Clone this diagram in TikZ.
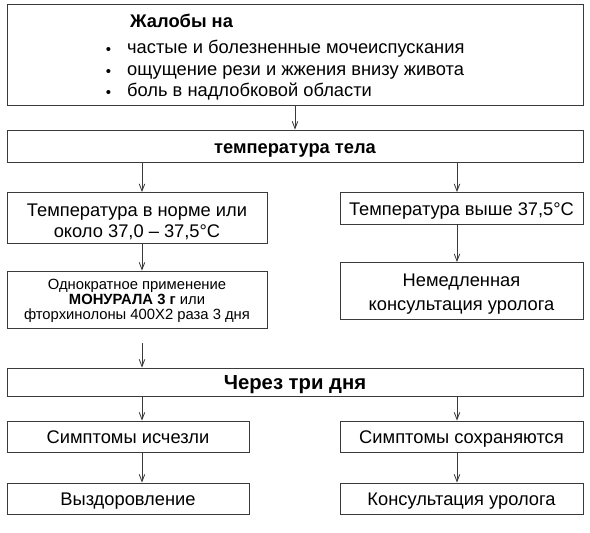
\documentclass[tikz,border=0pt]{standalone}
\usepackage{fontspec}
\setmainfont{Liberation Sans}
\usetikzlibrary{arrows.meta}
\definecolor{edge}{HTML}{3A3A3A}
\tikzset{
  box/.style={draw=edge, line width=0.9pt, fill=white, inner sep=0pt, align=center,
    font=\fontsize{18.3}{21}\selectfont, text height=14.6pt, text depth=0pt},
  arr/.style={draw=edge, line width=0.85pt, -{Straight Barb[length=7pt,width=5.5pt]}},
  txt/.style={inner sep=0pt, anchor=base west, font=\fontsize{18.3}{20}\selectfont},
  bul/.style={inner sep=0pt, anchor=base, font=\fontsize{15}{16}\selectfont}
}
\begin{document}
\begin{tikzpicture}[x=1pt,y=-1pt]
\useasboundingbox (0,0) rectangle (590,533);
\fill[white] (0,0) rectangle (590,533);
% columns
\coordinate (lc) at (142,0);
\coordinate (rc) at (457,0);
% top box
\node[box, minimum width=576pt, minimum height=101pt] (top) at (295,54.5) {};
\draw[edge, line width=1.8pt] (top.south west) -- (top.south east);
\node[txt, font=\fontsize{18.3}{20}\selectfont\bfseries] (head) at (130,27) {Жалобы на};
\node[bul] (b1) at (108.5,54) {•};
\node[txt] (t1) at (127,53.5) {частые и болезненные мочеиспускания};
\node[bul] (b2) at (108.5,76) {•};
\node[txt] (t2) at (127,75.5) {ощущение рези и жжения внизу живота};
\node[bul] (b3) at (108.5,97) {•};
\node[txt] (t3) at (127,96.5) {боль в надлобковой области};
% temperature
\node[box, minimum width=576pt, minimum height=32pt, font=\fontsize{18.3}{20}\selectfont\bfseries] (temp) at (295,146) {температура тела};
% left column
\node[box, minimum width=260pt, minimum height=50.5pt, text height=38.5pt, text depth=0pt] (l1) at (137,217.75) {Температура в норме или\\около 37,0 – 37,5°C};
\node[box, font=\fontsize{14.8}{15}\selectfont, minimum width=260pt, minimum height=57pt, text height=39pt, text depth=0pt] (l2) at (137,299.5) {Однократное применение\\\textbf{МОНУРАЛА 3 г} или\\фторхинолоны 400X2 раза 3 дня};
% right column
\node[box, minimum width=243pt, minimum height=31.5pt] (r1) at (461.5,208.25) {Температура выше 37,5°C};
\node[box, font=\fontsize{18.3}{24.7}\selectfont, minimum width=243pt, minimum height=56.5pt, text height=39.9pt, text depth=0pt] (r2) at (461.5,290.75) {Немедленная\\консультация уролога};
% three days
\node[box, minimum width=576pt, minimum height=28pt, font=\fontsize{20.3}{22}\selectfont\bfseries] (via) at (295,382) {Через три дня};
% bottom
\node[box, minimum width=242pt, minimum height=31pt] (l3) at (128,436.5) {Симптомы исчезли};
\node[box, minimum width=242pt, minimum height=31pt] (l4) at (128,498.5) {Выздоровление};
\node[box, minimum width=243pt, minimum height=31pt] (r3) at (461.5,436.5) {Симптомы сохраняются};
\node[box, minimum width=243pt, minimum height=31pt] (r4) at (461.5,498.5) {Консультация уролога};
% connectors
\coordinate (gap) at (142,343);
\draw[arr] (top.south) -- (temp.north);
\draw[arr] (temp.south -| lc) -- (l1.north -| lc);
\draw[arr] (temp.south -| rc) -- (r1.north -| rc);
\draw[arr] (l1.south -| lc) -- (l2.north -| lc);
\draw[arr] (r1.south -| rc) -- (r2.north -| rc);
\draw[arr] (gap) -- (via.north -| lc);
\draw[arr] (via.south -| lc) -- (l3.north -| lc);
\draw[arr] (via.south -| rc) -- (r3.north -| rc);
\draw[arr] (l3.south -| lc) -- (l4.north -| lc);
\draw[arr] (r3.south -| rc) -- (r4.north -| rc);
\end{tikzpicture}
\end{document}
